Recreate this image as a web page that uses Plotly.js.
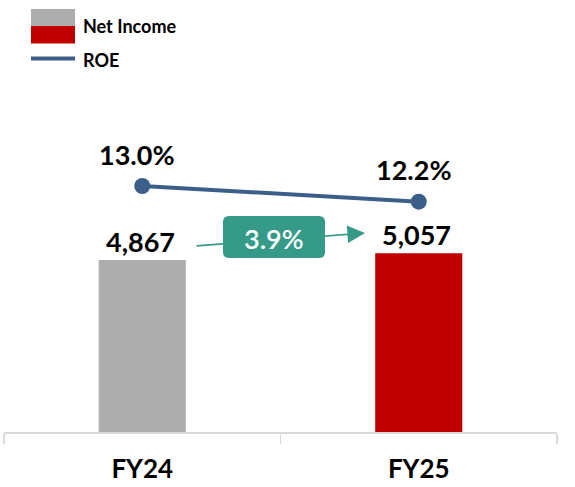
<!DOCTYPE html>
<html>
<head>
<meta charset="utf-8">
<script src="https://cdn.plot.ly/plotly-3.0.1.min.js"></script>
<style>
  html, body { margin: 0; padding: 0; background: #ffffff; }
  #chart { width: 575px; height: 487px; }
</style>
</head>
<body>
<div id="chart"></div>
<script>
// ---- data ----
const categories = ['FY24', 'FY25'];
const netIncome = [4867, 5057];
const roe = [13.0, 12.2];
const growthLabel = '3.9%';
const barColors = ['#ADADAD', '#C00000'];
const seriesNames = ['Net Income', 'ROE'];

// ---- layout helpers (pixel -> paper) ----
const W = 575, H = 487;
const M = { l: 4, r: 18, t: 70, b: 55 };
const pw = W - M.l - M.r, ph = H - M.t - M.b;
const px = x => (x - M.l) / pw;
const py = y => (H - M.b - y) / ph;

const FONT = 'Lato, "Open Sans", sans-serif';
const green = '#359B88';
const roeColor = '#3B5F89';

const traces = [
  {
    type: 'bar', x: categories, y: netIncome, name: seriesNames[0],
    marker: { color: barColors }, width: 0.315, yaxis: 'y',
    hoverinfo: 'skip', showlegend: false
  },
  {
    type: 'scatter', mode: 'lines+markers', x: categories, y: roe, name: seriesNames[1],
    yaxis: 'y2', line: { color: roeColor, width: 4 },
    marker: { color: roeColor, size: 16 }, hoverinfo: 'skip', showlegend: false
  }
];

const annotations = [];
categories.forEach((c, i) => {
  annotations.push({
    x: c, y: netIncome[i], xref: 'x', yref: 'y',
    text: '<b>' + netIncome[i].toLocaleString('en-US') + '</b>',
    showarrow: false, yanchor: 'middle', yshift: 18.5, xshift: -2,
    font: { family: FONT, size: 27, color: '#000000' }
  });
  annotations.push({
    x: c, y: roe[i], xref: 'x', yref: 'y2',
    text: '<b>' + roe[i].toFixed(1) + '%</b>',
    showarrow: false, yanchor: 'middle', yshift: 32, xshift: -5,
    font: { family: FONT, size: 27, color: '#000000' }
  });
});

// growth arrow
annotations.push({
  x: px(365), y: py(233), xref: 'paper', yref: 'paper',
  ax: 195 - 365, ay: 246 - 233, axref: 'pixel', ayref: 'pixel',
  text: '', showarrow: true, arrowhead: 2, arrowsize: 2.2, arrowwidth: 1.6,
  arrowcolor: green
});
// growth label
annotations.push({
  x: px(274), y: py(238), xref: 'paper', yref: 'paper',
  text: growthLabel, showarrow: false, xanchor: 'center', yanchor: 'middle',
  font: { family: FONT, size: 27, color: '#ffffff', weight: 600 }
});
// legend texts
annotations.push({
  x: px(81), y: py(26), xref: 'paper', yref: 'paper', xanchor: 'left', yanchor: 'middle',
  text: '<b>' + seriesNames[0] + '</b>', showarrow: false,
  font: { family: FONT, size: 18, color: '#000000' }
});
annotations.push({
  x: px(81), y: py(60), xref: 'paper', yref: 'paper', xanchor: 'left', yanchor: 'middle',
  text: '<b>' + seriesNames[1] + '</b>', showarrow: false,
  font: { family: FONT, size: 18, color: '#000000' }
});

// rounded box path
function roundRect(x0, y0, x1, y1, r) {
  const X0 = px(x0), X1 = px(x1), Y0 = py(y0), Y1 = py(y1);
  const rx = r / pw, ry = r / ph;
  return `M ${X0 + rx} ${Y0} L ${X1 - rx} ${Y0} Q ${X1} ${Y0} ${X1} ${Y0 - ry} ` +
         `L ${X1} ${Y1 + ry} Q ${X1} ${Y1} ${X1 - rx} ${Y1} L ${X0 + rx} ${Y1} ` +
         `Q ${X0} ${Y1} ${X0} ${Y1 + ry} L ${X0} ${Y0 - ry} Q ${X0} ${Y0} ${X0 + rx} ${Y0} Z`;
}

const shapes = [
  { type: 'path', xref: 'paper', yref: 'paper', path: roundRect(223, 216, 325, 258, 6),
    fillcolor: green, line: { width: 0 }, layer: 'above' },
  // legend swatch
  { type: 'rect', xref: 'paper', yref: 'paper', x0: px(31), x1: px(75), y0: py(9), y1: py(26),
    fillcolor: barColors[0], line: { width: 0 } },
  { type: 'rect', xref: 'paper', yref: 'paper', x0: px(31), x1: px(75), y0: py(26), y1: py(43.5),
    fillcolor: barColors[1], line: { width: 0 } },
  { type: 'line', xref: 'paper', yref: 'paper', x0: px(31), x1: px(75), y0: py(58.5), y1: py(58.5),
    line: { color: roeColor, width: 4 } }
];

const layout = {
  width: W, height: H,
  margin: M,
  paper_bgcolor: '#ffffff', plot_bgcolor: '#ffffff',
  showlegend: false,
  font: { family: FONT },
  xaxis: {
    type: 'category', range: [-0.5, 1.5], fixedrange: true,
    showline: true, linecolor: '#D9D9D9', linewidth: 1.5,
    ticks: 'outside', tickson: 'boundaries', ticklen: 10, tickwidth: 1.5, tickcolor: '#D9D9D9',
    ticklabelstandoff: 13,
    tickfont: { family: FONT, size: 26, color: '#000000', weight: 'bold' },
    showgrid: false, zeroline: false
  },
  yaxis: { range: [0, 10240], visible: false, showgrid: false, zeroline: false },
  yaxis2: { range: [0.45, 18.92], overlaying: 'y', side: 'right', visible: false,
            showgrid: false, zeroline: false },
  annotations: annotations,
  shapes: shapes
};

Plotly.newPlot('chart', traces, layout, { displayModeBar: false, staticPlot: true });
</script>
</body>
</html>
